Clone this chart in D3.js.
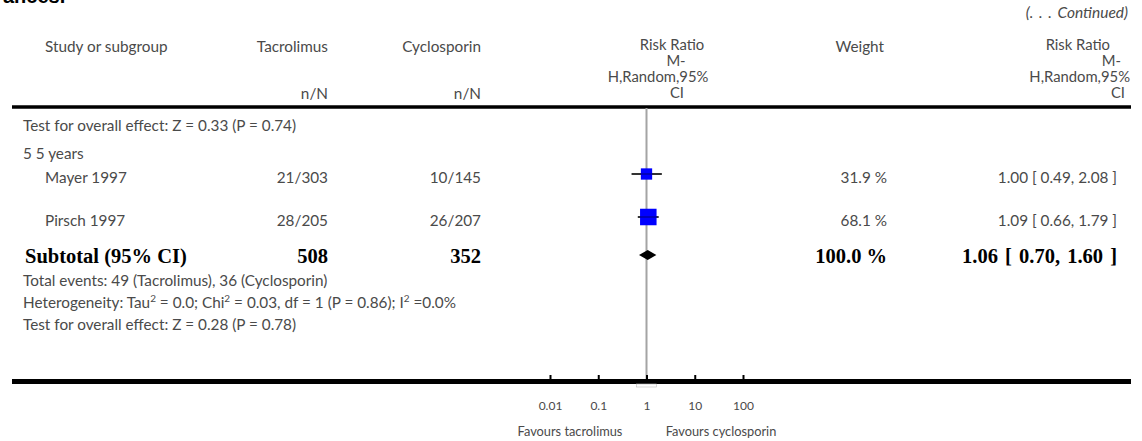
<!DOCTYPE html>
<html>
<head>
<meta charset="utf-8">
<script src="https://cdn.jsdelivr.net/npm/d3@7"></script>
<style>
  body { margin: 0; background: #fff; }
  svg { display: block; }
  .t { font-family: Lato, "Open Sans", sans-serif; font-size: 15.3px; fill: #4a4a4a; }
  .b { font-family: "Liberation Serif", "DejaVu Serif", serif; font-weight: bold; font-size: 20.5px; fill: #000; }
</style>
</head>
<body>
<svg id="chart" width="1142" height="441"></svg>
<script>
// ---- data ----
var studies = ["Mayer 1997", "Pirsch 1997"];
var tacroEvents = ["21/303", "28/205"];
var cycloEvents = ["10/145", "26/207"];
var riskRatio = [1.00, 1.09];
var ciLow = [0.49, 0.66];
var ciHigh = [2.08, 1.79];
var weights = [31.9, 68.1];

var subtotalN = [508, 352];
var subtotalRR = [1.06, 0.70, 1.60];   // estimate, lower, upper
var subtotalWeight = 100.0;

var axisTicks = [0.01, 0.1, 1, 10, 100];
var favours = ["Favours tacrolimus", "Favours cyclosporin"];

var svg = d3.select("#chart");

// log scale of the forest plot
var x = d3.scaleLog().domain([0.01, 100]).range([550, 743]);
var side = d3.scaleSqrt().domain([0, 100]).range([0, 20]);

var fmt2 = d3.format(".2f");
var ciText = function (rr, lo, hi) {
	return fmt2(rr) + " [ " + fmt2(lo) + ", " + fmt2(hi) + " ]";
};

// cut off text from the page above
svg.append("text").attr("x", 3).attr("y", 3)
	.style("font-family", "Liberation Sans, Arial, sans-serif")
	.style("font-weight", "bold").style("font-size", "20px")
	.text("ances.");

svg.append("text").attr("class", "t").attr("x", 1128).attr("y", 18)
	.attr("text-anchor", "end").style("font-style", "italic").style("font-size", "15.5px")
	.style("word-spacing", "2px")
	.text("(. . .  Continued)");

// header
var header = svg.append("g");
var hText = function (s, xPos, y, anchor, size) {
	header.append("text").attr("class", "t").attr("x", xPos).attr("y", y)
		.attr("text-anchor", anchor || "start")
		.style("font-size", size || null).text(s);
};
hText("Study or subgroup", 45, 52);
hText("Tacrolimus", 328, 52, "end");
hText("n/N", 328, 99, "end");
hText("Cyclosporin", 481, 52, "end");
hText("n/N", 481, 99, "end");
hText("Risk Ratio", 672, 50, "middle", "14.8px");
hText("M-", 676, 66, "middle", "14.8px");
hText("H,Random,95%", 658, 82, "middle", "14.8px");
hText("CI", 677, 98, "middle", "14.8px");
hText("Weight", 884, 52, "end");
hText("Risk Ratio", 1110, 50, "end", "14.8px");
hText("M-", 1121, 66, "end", "14.8px");
hText("H,Random,95%", 1130, 82, "end", "14.8px");
hText("CI", 1125, 98, "end", "14.8px");

// horizontal rule under header
svg.append("line").attr("x1", 12).attr("x2", 1131).attr("y1", 107).attr("y2", 107)
	.attr("stroke", "#000").attr("stroke-width", 3.5);

// line of no effect
svg.append("line").attr("x1", x(1)).attr("x2", x(1)).attr("y1", 108).attr("y2", 379)
	.attr("stroke", "#a4a4a4").attr("stroke-width", 2);

// text rows
var body = svg.append("g");
var tRow = function (s, xPos, y, anchor) {
	return body.append("text").attr("class", "t").attr("x", xPos).attr("y", y)
		.attr("text-anchor", anchor || "start").text(s);
};
tRow("Test for overall effect: Z = 0.33 (P = 0.74)", 23, 131);
tRow("5 5 years", 23, 159);

var studyY = [183, 226];

studies.forEach(function (s, i) {
	var y = studyY[i];
	tRow(s, 45, y);
	tRow(tacroEvents[i], 328, y, "end");
	tRow(cycloEvents[i], 481, y, "end");
	tRow(weights[i].toFixed(1) + " %", 887, y, "end");
	tRow(ciText(riskRatio[i], ciLow[i], ciHigh[i]), 1117, y, "end");
});

// confidence intervals and squares
var marks = svg.append("g");
marks.selectAll("line.ci").data(studies).enter().append("line")
	.attr("class", "ci")
	.attr("x1", function (d, i) { return x(ciLow[i]); })
	.attr("x2", function (d, i) { return x(ciHigh[i]); })
	.attr("y1", function (d, i) { return studyY[i] - 9; })
	.attr("y2", function (d, i) { return studyY[i] - 9; })
	.attr("stroke", "#333").attr("stroke-width", 2);

marks.selectAll("rect.sq").data(studies).enter().append("rect")
	.attr("class", "sq")
	.attr("x", function (d, i) { return x(riskRatio[i]) - side(weights[i]) / 2; })
	.attr("y", function (d, i) { return studyY[i] - 9 - side(weights[i]) / 2; })
	.attr("width", function (d, i) { return side(weights[i]); })
	.attr("height", function (d, i) { return side(weights[i]); })
	.attr("fill", "#0000ff");

marks.selectAll("line.mid").data(studies).enter().append("line")
	.attr("class", "mid")
	.attr("x1", function (d, i) { return Math.max(x(ciLow[i]), x(riskRatio[i]) - side(weights[i]) / 2); })
	.attr("x2", function (d, i) { return Math.min(x(ciHigh[i]), x(riskRatio[i]) + side(weights[i]) / 2); })
	.attr("y1", function (d, i) { return studyY[i] - 9; })
	.attr("y2", function (d, i) { return studyY[i] - 9; })
	.attr("stroke", "#000060").attr("stroke-width", 1.2).attr("stroke-opacity", 0.7);

// subtotal
var subY = 263;
body.append("text").attr("class", "b").attr("x", 25).attr("y", subY).text("Subtotal (95% CI)");
body.append("text").attr("class", "b").attr("x", 328).attr("y", subY).attr("text-anchor", "end").text(subtotalN[0]);
body.append("text").attr("class", "b").attr("x", 481).attr("y", subY).attr("text-anchor", "end").text(subtotalN[1]);
body.append("text").attr("class", "b").attr("x", 887).attr("y", subY).attr("text-anchor", "end").text(subtotalWeight.toFixed(1) + " %");
body.append("text").attr("class", "b").attr("x", 1117).attr("y", subY).attr("text-anchor", "end")
	.style("word-spacing", "2px")
	.text(ciText(subtotalRR[0], subtotalRR[1], subtotalRR[2]));

var dy = subY - 8;
marks.append("path")
	.attr("d", d3.line()([
		[x(subtotalRR[1]), dy],
		[x(subtotalRR[0]), dy - 5],
		[x(subtotalRR[2]), dy],
		[x(subtotalRR[0]), dy + 5]
	]) + "Z")
	.attr("fill", "#000");

tRow("Total events: 49 (Tacrolimus), 36 (Cyclosporin)", 23, 286);

// heterogeneity line with superscripts
var hetParts = [
	["Heterogeneity: Tau", false], ["2", true], [" = 0.0; Chi", false], ["2", true],
	[" = 0.03, df = 1 (P = 0.86); I", false], ["2", true], [" =0.0%", false]
];
var het = tRow("", 23, 308);
het.selectAll("tspan").data(hetParts).enter().append("tspan")
	.attr("baseline-shift", function (d) { return d[1] ? "super" : null; })
	.style("font-size", function (d) { return d[1] ? "10px" : null; })
	.text(function (d) { return d[0]; });

tRow("Test for overall effect: Z = 0.28 (P = 0.78)", 23, 330);

// bottom axis
var axisY = 380;
svg.append("line").attr("x1", 12).attr("x2", 1131).attr("y1", axisY + 1.5).attr("y2", axisY + 1.5)
	.attr("stroke", "#000").attr("stroke-width", 5);
svg.append("rect").attr("x", x(1) - 10).attr("y", axisY + 4).attr("width", 20).attr("height", 3)
	.attr("fill", "#fff").attr("stroke", "#bbb").attr("stroke-width", 0.6);

var axis = d3.axisBottom(x)
	.tickValues(axisTicks)
	.tickSize(-5)
	.tickPadding(21)
	.tickFormat(function (d) { return String(d); });

var gAxis = svg.append("g").attr("transform", "translate(0," + axisY + ")").call(axis);
gAxis.select(".domain").remove();
gAxis.selectAll(".tick line").attr("stroke", "#000").attr("stroke-width", 2);
gAxis.selectAll(".tick text")
	.style("font-family", "Lato, 'Open Sans', sans-serif").style("font-size", "12px").attr("fill", "#4a4a4a");

svg.append("text").attr("class", "t").attr("x", 570).attr("y", 436).attr("text-anchor", "middle")
	.style("font-size", "12.8px").text(favours[0]);
svg.append("text").attr("class", "t").attr("x", 721).attr("y", 436).attr("text-anchor", "middle")
	.style("font-size", "12.8px").text(favours[1]);
</script>
</body>
</html>
